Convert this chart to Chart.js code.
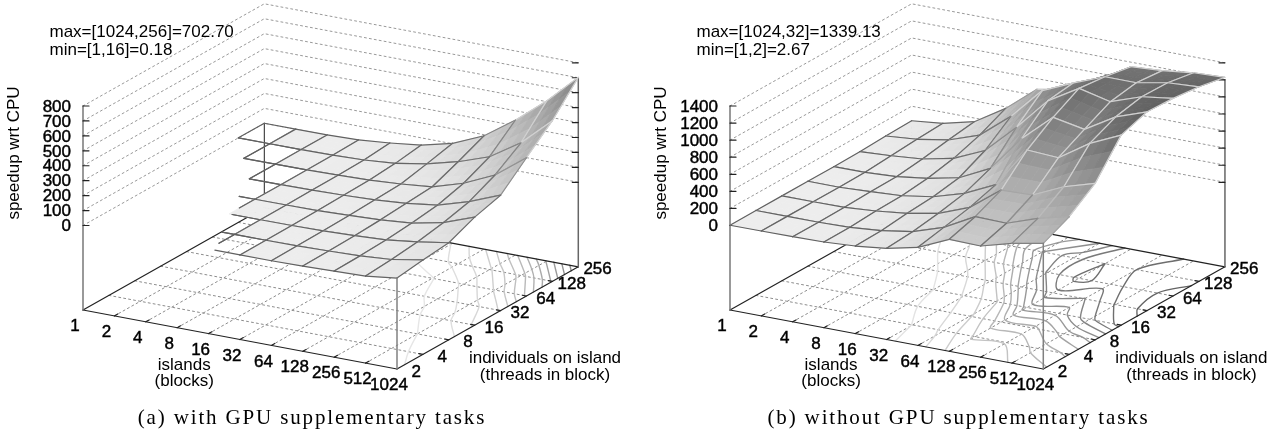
<!DOCTYPE html>
<html>
<head>
<meta charset="utf-8">
<title>speedup wrt CPU</title>
<script src="https://cdn.jsdelivr.net/npm/chart.js@4/dist/chart.umd.min.js"></script>
<style>
  html, body { margin: 0; background: #fff; }
  #wrap { display: flex; width: 1280px; height: 434px; overflow: hidden; }
  canvas { display: block; }
</style>
</head>
<body>
<div id="wrap">
  <canvas id="panel-a" width="640" height="434"></canvas>
  <canvas id="panel-b" width="640" height="434"></canvas>
</div>
<script>
const islands = ['1', '2', '4', '8', '16', '32', '64', '128', '256', '512', '1024'];
const individuals = ['2', '4', '8', '16', '32', '64', '128', '256'];

// one row per individuals value, one column per islands value
const withGpu = [
  [0.4, 0.3, 0.5, 0.4, 0.5, 0.6, 1, 5, 11, 17, 43],
  [0.3, 0.4, 0.4, 0.5, 0.6, 1, 3, 8, 15, 30, 67],
  [0.3, 0.5, 0.4, 0.5, 1, 2, 6, 13, 24, 50, 84],
  [0.18, 0.3, 0.4, 1, 2, 4, 11, 21, 39, 81, 158],
  [0.3, 0.3, 0.5, 1, 4, 9, 18, 34, 62, 124, 207],
  [0.3, 0.4, 1, 2, 6, 13, 26, 47, 110, 205, 360],
  [0.4, 0.5, 1, 3, 10, 27, 63, 117, 190, 323, 510],
  [0.5, 0.6, 1, 7, 26, 52, 103, 193, 338, 507, 702.7]
];
const withoutGpu = [
  [2.67, 5, 7, 14, 36, 78, 159, 322, 313, 413, 482],
  [5, 5, 5, 15, 45, 102, 222, 416, 408, 535, 623],
  [5, 5, 9, 35, 77, 146, 285, 557, 568, 734, 843],
  [5, 4, 21, 43, 100, 209, 380, 855, 834, 1071, 1237],
  [5, 8, 26, 76, 152, 330, 750, 1067, 995, 1211, 1339.13],
  [10, 31, 62, 139, 300, 640, 1020, 1235, 1148, 1275, 1325],
  [22, 53, 114, 240, 530, 900, 1060, 1200, 1199, 1268, 1290],
  [30, 69, 157, 382, 675, 744, 900, 1147, 1170, 1214, 1230]
];

const zTicksA = [0, 100, 200, 300, 400, 500, 600, 700, 800];
const zTicksB = [0, 200, 400, 600, 800, 1000, 1200, 1400];
const contourA = [50, 100, 150, 200, 250, 300, 350, 400, 450, 500, 550, 600, 650, 700];
const contourB = [100, 200, 300, 400, 500, 600, 700, 800, 900, 1000, 1100, 1200, 1300];

// the left part of the surface in (a) is missing in the original figure
const fillStartA = [5, 4, 3, 3, 3, 2, 1];
const rowStartA = [4.2, 3.6, 3.1, 2.5, 2, 1, 0, 0];
const colStopA = [6, 5, 4, 2.4, 0.4, 0, 0, 0, 0, 0, 0];

const SHADE_STEPS = 3;
const TEXT_FONT = '17px "Liberation Sans", Arial, sans-serif';

function gray(level) {
  const v = Math.round(Math.max(0, Math.min(1, level)) * 255).toString(16).padStart(2, '0');
  return '#' + v + v + v;
}

function zAt(rows, i, j) {
  const i0 = Math.min(Math.floor(i), rows[0].length - 2);
  const j0 = Math.min(Math.floor(j), rows.length - 2);
  const fi = i - i0;
  const fj = j - j0;
  return rows[j0][i0] * (1 - fi) * (1 - fj) + rows[j0][i0 + 1] * fi * (1 - fj) +
    rows[j0 + 1][i0] * (1 - fi) * fj + rows[j0 + 1][i0 + 1] * fi * fj;
}

function project(p, i, j, z) {
  const lift = z === undefined ? 0 : p.floorGap + z * p.zScale;
  return {
    x: p.origin[0] + p.xStep[0] * i + p.yStep[0] * j,
    y: p.origin[1] + p.xStep[1] * i + p.yStep[1] * j - lift
  };
}

function lineSet(points, color, width, dash, tension) {
  return {
    data: points,
    showLine: true,
    fill: false,
    borderColor: color,
    borderWidth: width,
    borderDash: dash || [],
    borderCapStyle: 'round',
    pointRadius: 0,
    tension: tension || 0
  };
}

function polySet(points, color) {
  return {
    data: points.concat([points[0]]),
    showLine: true,
    fill: 'shape',
    backgroundColor: color,
    borderColor: color,
    borderWidth: 0.8,
    pointRadius: 0,
    tension: 0
  };
}

// walk the grid, then join the cell pieces into whole lines
function contourChains(rows, level) {
  const pieces = [];
  const cross = (i1, j1, i2, j2) => {
    const f = (level - rows[j1][i1]) / (rows[j2][i2] - rows[j1][i1]);
    return { i: i1 + (i2 - i1) * f, j: j1 + (j2 - j1) * f };
  };
  for (let j = 0; j < rows.length - 1; j++) {
    for (let i = 0; i < rows[0].length - 1; i++) {
      const a = rows[j][i] >= level;
      const b = rows[j][i + 1] >= level;
      const c = rows[j + 1][i + 1] >= level;
      const d = rows[j + 1][i] >= level;
      const hits = [];
      if (a !== b) hits.push(cross(i, j, i + 1, j));
      if (b !== c) hits.push(cross(i + 1, j, i + 1, j + 1));
      if (c !== d) hits.push(cross(i + 1, j + 1, i, j + 1));
      if (d !== a) hits.push(cross(i, j + 1, i, j));
      if (hits.length === 2) {
        pieces.push([hits[0], hits[1]]);
      } else if (hits.length === 4) {
        pieces.push([hits[0], hits[3]], [hits[1], hits[2]]);
      }
    }
  }
  const same = (u, v) => Math.abs(u.i - v.i) < 1e-6 && Math.abs(u.j - v.j) < 1e-6;
  const chains = [];
  while (pieces.length) {
    const chain = pieces.pop();
    let grown = true;
    while (grown) {
      grown = false;
      for (let n = 0; n < pieces.length; n++) {
        const [u, v] = pieces[n];
        const head = chain[0];
        const tail = chain[chain.length - 1];
        if (same(tail, u)) chain.push(v);
        else if (same(tail, v)) chain.push(u);
        else if (same(head, u)) chain.unshift(v);
        else if (same(head, v)) chain.unshift(u);
        else continue;
        pieces.splice(n, 1);
        grown = true;
        break;
      }
    }
    chains.push(chain);
  }
  return chains;
}

function contourSets(p, level, sets) {
  const color = gray(0.93 - (0.93 - p.paletteEnd) * level / p.zMax);
  contourChains(p.rows, level).forEach((chain) => {
    sets.push(lineSet(chain.map((c) => project(p, c.i, c.j)), color, 1.4, [], 0.35));
  });
}

function edgeColor(p, z) {
  const t = z / p.zMax;
  if (t < 0.3) return gray(0.38 + t * 0.3);
  if (t < 0.5) return gray(0.47 + (t - 0.3) * 1.75);
  return gray(0.82);
}

function buildDatasets(p) {
  const sets = [];
  const rows = p.rows;
  const nI = rows[0].length - 1;
  const nJ = rows.length - 1;
  const dots = [2, 3];
  const zTop = p.zTicks[p.zTicks.length - 1];

  p.zTicks.forEach((z) => {
    sets.push(lineSet([project(p, 0, 0, z), project(p, 0, nJ, z), project(p, nI, nJ, z)], '#999999', 1, dots));
  });
  for (let i = 1; i < nI; i++) {
    sets.push(lineSet([project(p, i, 0), project(p, i, nJ)], '#8c8c8c', 1, dots));
  }
  for (let j = 1; j < nJ; j++) {
    sets.push(lineSet([project(p, 0, j), project(p, nI, j)], '#8c8c8c', 1, dots));
  }

  p.contours.forEach((level) => contourSets(p, level, sets));

  sets.push(lineSet([project(p, 0, nJ), project(p, nI, nJ)], '#222222', 1.2));
  sets.push(lineSet([project(p, 0, 0), project(p, nI, 0)], '#222222', 1.2));
  sets.push(lineSet([project(p, 0, 0), project(p, 0, nJ)], '#222222', 1.2));
  sets.push(lineSet([project(p, nI, 0), project(p, nI, nJ)], '#222222', 1.2));
  sets.push(lineSet([project(p, 0, 0), project(p, 0, 0, zTop)], '#777777', 1.5));
  sets.push(lineSet([project(p, nI, nJ), project(p, nI, nJ, p.zTicks[p.zTicks.length - 2])], '#666666', 1.5));
  sets.push(lineSet([project(p, 0, nJ), project(p, 0, nJ, 0)], '#222222', 1));

  p.zTicks.forEach((z) => {
    const left = project(p, 0, 0, z);
    const right = project(p, nI, nJ, z);
    sets.push(lineSet([left, { x: left.x + 6, y: left.y }], '#222222', 1.2));
    sets.push(lineSet([right, { x: right.x - 6, y: right.y }], '#222222', 1.2));
  });
  for (let i = 1; i < nI; i++) {
    sets.push(lineSet([project(p, i, 0), project(p, i, 0.13)], '#222222', 1.2));
  }
  for (let j = 1; j < nJ; j++) {
    sets.push(lineSet([project(p, nI, j), project(p, nI - 0.13, j)], '#222222', 1.2));
  }

  // painter's order, far corner first
  for (let j = nJ - 1; j >= 0; j--) {
    for (let i = 0; i < nI; i++) {
      if (i >= p.fillStart[j]) {
        for (let sj = SHADE_STEPS - 1; sj >= 0; sj--) {
          for (let si = 0; si < SHADE_STEPS; si++) {
            const i1 = i + si / SHADE_STEPS;
            const i2 = i + (si + 1) / SHADE_STEPS;
            const j1 = j + sj / SHADE_STEPS;
            const j2 = j + (sj + 1) / SHADE_STEPS;
            const mean = zAt(rows, (i1 + i2) / 2, (j1 + j2) / 2);
            sets.push(polySet([
              project(p, i1, j1, zAt(rows, i1, j1)),
              project(p, i2, j1, zAt(rows, i2, j1)),
              project(p, i2, j2, zAt(rows, i2, j2)),
              project(p, i1, j2, zAt(rows, i1, j2))
            ], gray(0.93 - (0.93 - p.paletteEnd) * mean / p.zMax)));
          }
        }
      }
      [j, j + 1].forEach((row) => {
        const from = Math.max(i, p.rowStart[row]);
        if (from < i + 1) {
          sets.push(lineSet([project(p, from, row, zAt(rows, from, row)), project(p, i + 1, row, rows[row][i + 1])],
            edgeColor(p, (rows[row][i] + rows[row][i + 1]) / 2), 1.2));
        }
      });
      [i, i + 1].forEach((col) => {
        const from = Math.max(j, p.colStop[col]);
        if (from < j + 1) {
          sets.push(lineSet([project(p, col, from, zAt(rows, col, from)), project(p, col, j + 1, rows[j + 1][col])],
            edgeColor(p, (rows[j][col] + rows[j + 1][col]) / 2), 1.2));
        }
      });
    }
  }

  sets.push(lineSet([project(p, nI, 0), project(p, nI, 0, rows[0][nI])], '#808080', 1.5));
  // Chart.js paints the first dataset last
  return sets.reverse();
}

function labelPlugin(p) {
  return {
    id: 'labels',
    afterDraw(chart) {
      const { ctx, scales } = chart;
      const put = (text, x, y, bold) => {
        const px = scales.x.getPixelForValue(x);
        const py = scales.y.getPixelForValue(y);
        ctx.fillText(text, px, py);
        if (bold) ctx.strokeText(text, px, py);
      };
      ctx.save();
      ctx.fillStyle = '#000';
      ctx.strokeStyle = '#000';
      ctx.lineWidth = 0.45;
      ctx.font = TEXT_FONT;
      ctx.textBaseline = 'middle';

      ctx.textAlign = 'center';
      const nI = islands.length - 1;
      islands.forEach((label, i) => {
        const at = project(p, i, 0);
        put(label, at.x - 8, at.y + 16.5, true);
      });
      individuals.forEach((label, j) => {
        const at = project(p, nI, j);
        put(label, at.x + 19.3, at.y + 3, true);
      });
      const xTitle = project(p, 3.2, 0);
      put('islands', xTitle.x + 0.8, xTitle.y + 36, false);
      put('(blocks)', xTitle.x + 0.8, xTitle.y + 52.7, false);
      const yTitle = project(p, nI, 3);
      put('individuals on island', yTitle.x + 70.3, yTitle.y + 33.3, false);
      put('(threads in block)', yTitle.x + 70.3, yTitle.y + 50, false);

      ctx.textAlign = 'right';
      p.zTicks.forEach((z) => {
        const at = project(p, 0, 0, z);
        put(String(z), at.x - 12, at.y + 1, true);
      });

      ctx.textAlign = 'left';
      put(p.maxNote, p.origin[0] - 33.5, 32.5, false);
      put(p.minNote, p.origin[0] - 33.5, 50.5, false);

      ctx.save();
      ctx.translate(scales.x.getPixelForValue(p.origin[0] - 68.5), scales.y.getPixelForValue(153));
      ctx.rotate(-Math.PI / 2);
      ctx.textAlign = 'center';
      ctx.fillText('speedup wrt CPU', 0, 0);
      ctx.restore();

      ctx.textAlign = 'center';
      ctx.font = '21px "Liberation Serif", "Times New Roman", serif';
      ctx.letterSpacing = '1.85px';
      put(p.caption, p.captionX, 418, false);
      ctx.restore();
    }
  };
}

function renderPanel(id, p) {
  const ctx = document.getElementById(id).getContext('2d');
  return new Chart(ctx, {
    type: 'scatter',
    data: { datasets: buildDatasets(p) },
    options: {
      responsive: false,
      animation: false,
      devicePixelRatio: 1,
      layout: { padding: 0 },
      plugins: { legend: { display: false }, tooltip: { enabled: false } },
      events: [],
      scales: {
        x: { type: 'linear', min: 0, max: 640, display: false },
        y: { type: 'linear', min: 0, max: 434, reverse: true, display: false }
      }
    },
    plugins: [labelPlugin(p)]
  });
}

const noCut = { fillStart: [0, 0, 0, 0, 0, 0, 0], rowStart: [0, 0, 0, 0, 0, 0, 0, 0], colStop: [0, 0, 0, 0, 0, 0, 0, 0, 0, 0, 0] };

renderPanel('panel-a', {
  rows: withGpu,
  zTicks: zTicksA,
  contours: contourA,
  zMax: 800,
  zScale: 119.5 / 800,
  paletteEnd: 0.46,
  floorGap: 84.5,
  origin: [83, 310],
  xStep: [31.4, 5.9],
  yStep: [25.9, -14.6],
  fillStart: fillStartA,
  rowStart: rowStartA,
  colStop: colStopA,
  maxNote: 'max=[1024,256]=702.70',
  minNote: 'min=[1,16]=0.18',
  caption: '(a) with GPU supplementary tasks',
  captionX: 312
});

renderPanel('panel-b', Object.assign({
  rows: withoutGpu,
  zTicks: zTicksB,
  contours: contourB,
  zMax: 1400,
  zScale: 119.5 / 1400,
  paletteEnd: 0.35,
  floorGap: 84.5,
  origin: [90, 310],
  xStep: [31.33, 5.9],
  yStep: [25.95, -14.6],
  maxNote: 'max=[1024,32]=1339.13',
  minNote: 'min=[1,2]=2.67',
  caption: '(b) without GPU supplementary tasks',
  captionX: 318.5
}, noCut));
</script>
</body>
</html>
